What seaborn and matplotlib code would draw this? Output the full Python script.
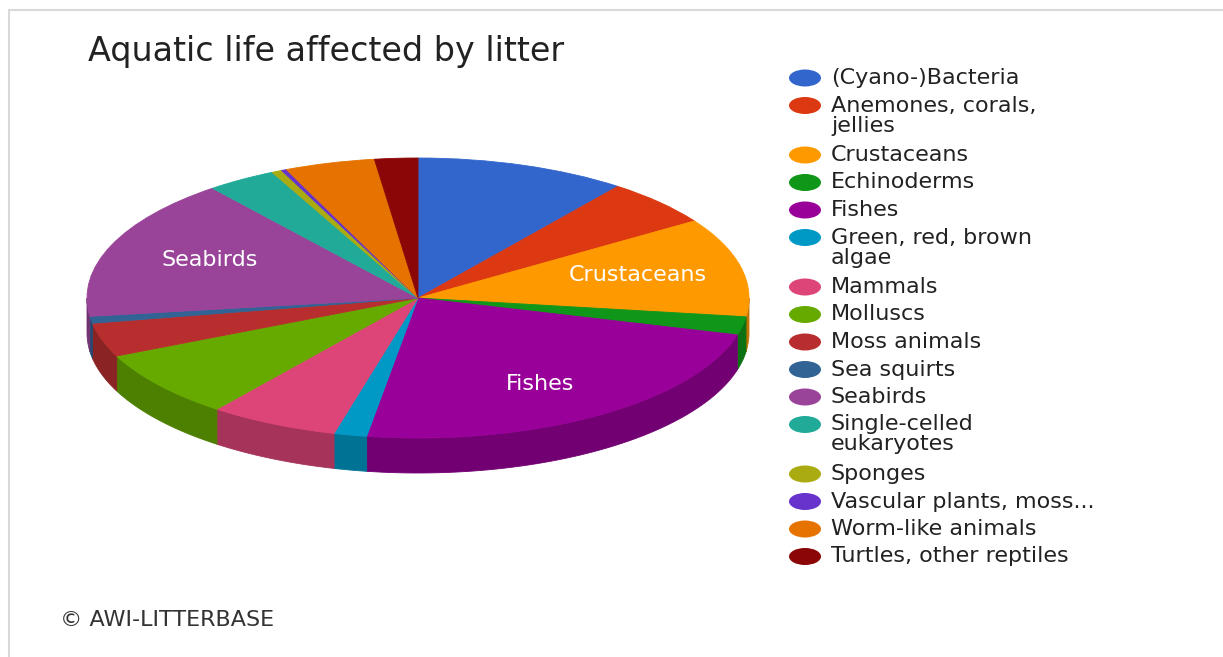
import numpy as np
import matplotlib
matplotlib.use("Agg")
import matplotlib.pyplot as plt
import seaborn as sns
from matplotlib.patches import Ellipse, Polygon
from matplotlib.lines import Line2D

# Share of species groups affected by litter (in %)
groups = [
    "(Cyano-)Bacteria",
    "Anemones, corals,\njellies",
    "Crustaceans",
    "Echinoderms",
    "Fishes",
    "Green, red, brown\nalgae",
    "Mammals",
    "Molluscs",
    "Moss animals",
    "Sea squirts",
    "Seabirds",
    "Single-celled\neukaryotes",
    "Sponges",
    "Vascular plants, moss...",
    "Worm-like animals",
    "Turtles, other reptiles",
]
shares = [10.3, 5.4, 11.4, 2.1, 23.2, 1.6, 6.3, 7.8, 3.9, 0.8,
          16.4, 3.4, 0.5, 0.25, 4.4, 2.1]
slice_labels = ["", "", "Crustaceans", "", "Fishes", "", "", "", "", "",
                "Seabirds", "", "", "", "", ""]
colors = ["#3366cc", "#dc3912", "#ff9900", "#109618", "#990099", "#0099c6",
          "#dd4477", "#66aa00", "#b82e2e", "#316395", "#994499", "#22aa99",
          "#aaaa11", "#6633cc", "#e67300", "#8b0707"]

sns.set_theme(style="white")
plt.rcParams["font.family"] = ["DejaVu Sans"]
palette = sns.color_palette(colors)

W, H = 1223, 657
fig = plt.figure(figsize=(W / 100, H / 100), dpi=100)

# pie axes: centre (418, 298) px, radii 331 x 140 px
cx, cy, rx, ry = 418, 298, 331, 140
xlo, xhi, ylo, yhi = -1.2, 1.2, -1.6, 1.2
ax = fig.add_axes([(cx + xlo * rx) / W, (H - (cy - ylo * ry)) / H,
                   (xhi - xlo) * rx / W, (yhi - ylo) * ry / H])

wedges, _ = ax.pie(shares, colors=palette, startangle=90, counterclock=False,
                   wedgeprops=dict(linewidth=0.6, zorder=3))
for w, c in zip(wedges, palette):
    w.set_edgecolor(c)
ax.set_aspect("auto")
ax.set_xlim(xlo, xhi)
ax.set_ylim(ylo, yhi)
ax.axis("off")

# side walls of the 3D pie (front half only)
depth = 0.25
for w, c in zip(wedges, palette):
    a, b = w.theta1, w.theta2
    side = tuple(np.array(c) * 0.75)
    for k in range(-2, 2):
        lo = max(a, 180 + 360 * k)
        hi = min(b, 360 + 360 * k)
        if hi - lo <= 0:
            continue
        t = np.radians(np.linspace(lo, hi, 60))
        top = np.column_stack([np.cos(t), np.sin(t)])
        bot = np.column_stack([np.cos(t[::-1]), np.sin(t[::-1]) - depth])
        ax.add_patch(Polygon(np.vstack([top, bot]), closed=True,
                             facecolor=side, edgecolor=side, linewidth=0.6,
                             zorder=2))

# labels inside large slices
for w, lab in zip(wedges, slice_labels):
    if lab:
        mid = np.radians((w.theta1 + w.theta2) / 2)
        ax.text(0.68 * np.cos(mid), 0.73 * np.sin(mid), lab,
                color="white", fontsize=16, ha="center", va="center",
                fontweight="medium", zorder=5)

# overlay in pixel coordinates for title, legend, footer and frame
ov = fig.add_axes([0, 0, 1, 1])
ov.set_xlim(0, W)
ov.set_ylim(H, 0)
ov.axis("off")

ov.text(88, 51, "Aquatic life affected by litter", fontsize=24,
        color="#222222", va="center", ha="left")

y = 78
for lab, c in zip(groups, palette):
    ov.add_patch(Ellipse((805, y), 32, 17, facecolor=c, edgecolor="none"))
    ov.text(831, y - 10, lab, fontsize=16, color="#222222", va="top",
            ha="left", linespacing=1.0)
    y += 27.5 + 22 * lab.count("\n")

ov.text(60, 620, "\u00a9 AWI-LITTERBASE", fontsize=16, color="#333333",
        va="center", ha="left")

ov.add_line(Line2D([9, W], [10, 10], color="#d9d9d9", linewidth=1.5))
ov.add_line(Line2D([9, 9], [10, H], color="#d9d9d9", linewidth=1.5))

fig.savefig("out.png", dpi=100, facecolor="white")
